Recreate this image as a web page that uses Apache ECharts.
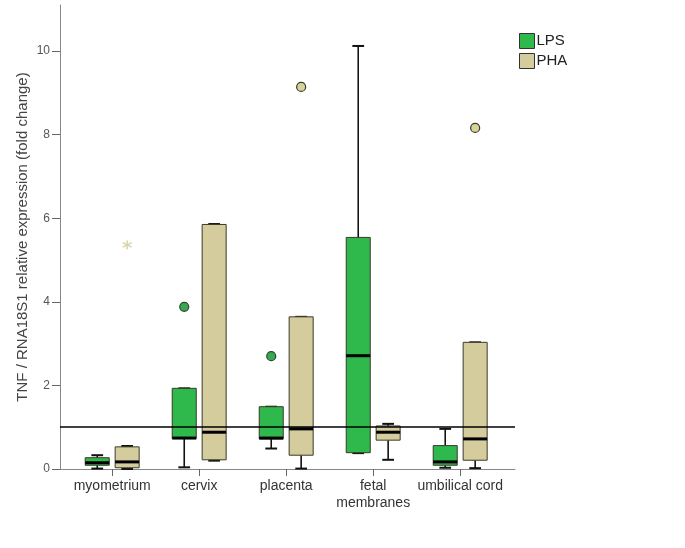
<!DOCTYPE html>
<html><head><meta charset="utf-8">
<script src="https://cdn.jsdelivr.net/npm/echarts@6/dist/echarts.min.js"></script>
<style>html,body{margin:0;padding:0;background:#fff}#c{width:685px;height:548px}</style>
</head><body><div id="c"></div>
<script>
const categories = ['myometrium', 'cervix', 'placenta', 'fetal\nmembranes', 'umbilical cord'];
const yTicks = [0, 2, 4, 6, 8, 10];
// LPS five-number summaries
const lpsMin = [0.01, 0.04, 0.49, 0.38, 0.03];
const lpsQ1  = [0.09, 0.73, 0.72, 0.39, 0.09];
const lpsMed = [0.15, 0.74, 0.74, 2.71, 0.17];
const lpsQ3  = [0.27, 1.93, 1.49, 5.54, 0.56];
const lpsMax = [0.33, 1.93, 1.49, 10.12, 0.96];
// PHA five-number summaries
const phaMin = [0.00, 0.20, 0.01, 0.22, 0.02];
const phaQ1  = [0.03, 0.22, 0.33, 0.69, 0.21];
const phaMed = [0.17, 0.88, 0.96, 0.88, 0.72];
const phaQ3  = [0.53, 5.85, 3.64, 1.03, 3.03];
const phaMax = [0.55, 5.86, 3.64, 1.08, 3.03];
// outliers [category index, value]
const lpsOutliers = [[1, 3.88], [2, 2.70]];
const phaOutliers = [[2, 9.14], [4, 8.16]];
const phaExtremes = [[0, 5.36]];
const refLine = 1;

const BOX_W = 0.276, CAP_W = 0.135, OFF = 0.172;
const LPS_COLOR = '#2fb84b', PHA_COLOR = '#d4cc9c';

function zip(mn, q1, md, q3, mx) {
  return mn.map((v, i) => [i, v, q1[i], md[i], q3[i], mx[i]]);
}
function makeRender(offset, fill) {
  return function (params, api) {
    const idx = api.value(0);
    const xc = api.coord([idx + offset, 0])[0];
    const bw = api.size([BOX_W, 0])[0];
    const cw = api.size([CAP_W, 0])[0];
    const y = k => api.coord([0, api.value(k)])[1];
    const yMin = y(1), yQ1 = y(2), yMed = y(3), yQ3 = y(4), yMax = y(5);
    const ls = { stroke: '#111', lineWidth: 1.6 };
    return {
      type: 'group',
      children: [
        { type: 'line', shape: { x1: xc, y1: yMax, x2: xc, y2: yQ3 }, style: ls },
        { type: 'line', shape: { x1: xc, y1: yQ1, x2: xc, y2: yMin }, style: ls },
        { type: 'line', shape: { x1: xc - cw / 2, y1: yMax, x2: xc + cw / 2, y2: yMax }, style: { stroke: '#111', lineWidth: 2 } },
        { type: 'line', shape: { x1: xc - cw / 2, y1: yMin, x2: xc + cw / 2, y2: yMin }, style: { stroke: '#111', lineWidth: 2 } },
        { type: 'rect', shape: { x: xc - bw / 2, y: yQ3, width: bw, height: Math.max(yQ1 - yQ3, 1) }, style: { fill: fill, stroke: '#3a3a2a', lineWidth: 1 } },
        { type: 'line', shape: { x1: xc - bw / 2, y1: yMed, x2: xc + bw / 2, y2: yMed }, style: { stroke: '#000', lineWidth: 3 } }
      ]
    };
  };
}

const chart = echarts.init(document.getElementById('c'), null, { renderer: 'canvas' });
const FONT = 'Liberation Sans, Arial, sans-serif';
chart.setOption({
  animation: false,
  textStyle: { fontFamily: FONT },
  grid: { left: 60, right: 170, top: 5, bottom: 79, containLabel: false },
  legend: {
    orient: 'vertical', left: 519, top: 33, padding: 0, itemWidth: 15, itemHeight: 15, itemGap: 4,
    icon: 'rect',
    textStyle: { fontSize: 15, color: '#222', fontFamily: FONT, padding: [0, 0, 0, -3] },
    data: [
      { name: 'LPS', itemStyle: { color: LPS_COLOR, borderColor: '#333', borderWidth: 1 } },
      { name: 'PHA', itemStyle: { color: PHA_COLOR, borderColor: '#333', borderWidth: 1 } }
    ]
  },
  xAxis: {
    type: 'value', min: -0.6, max: 4.63,
    splitLine: { show: false },
    axisLine: { show: true, onZero: false, lineStyle: { color: '#888', width: 1 } },
    axisTick: { show: true, customValues: categories.map((c, i) => i), length: 7, lineStyle: { color: '#666' } },
    axisLabel: {
      customValues: categories.map((c, i) => i), formatter: v => categories[Math.round(v)],
      fontSize: 14, color: '#333', margin: 9, lineHeight: 17, fontFamily: FONT
    }
  },
  yAxis: {
    type: 'value', min: 0, max: 11.1,
    splitLine: { show: false },
    axisLine: { show: true, onZero: false, lineStyle: { color: '#888', width: 1 } },
    axisTick: { show: true, customValues: yTicks, length: 8, lineStyle: { color: '#666' } },
    axisLabel: { customValues: yTicks, fontSize: 12, color: '#555', margin: 10, fontFamily: FONT },
    name: 'TNF / RNA18S1 relative expression (fold change)',
    nameLocation: 'middle', nameGap: 30, nameRotate: 90, nameMoveOverlap: false,
    nameTextStyle: { fontSize: 15, color: '#444', fontFamily: FONT }
  },
  series: [
    {
      name: 'LPS', type: 'custom', renderItem: makeRender(-OFF, LPS_COLOR),
      itemStyle: { color: LPS_COLOR }, encode: { x: 0, y: [1, 2, 3, 4, 5] },
      data: zip(lpsMin, lpsQ1, lpsMed, lpsQ3, lpsMax), z: 3,
      markLine: {
        silent: true, symbol: 'none', label: { show: false },
        lineStyle: { color: '#000', width: 1.5, type: 'solid' },
        data: [{ yAxis: refLine }]
      }
    },
    {
      name: 'PHA', type: 'custom', renderItem: makeRender(OFF, PHA_COLOR),
      itemStyle: { color: PHA_COLOR }, encode: { x: 0, y: [1, 2, 3, 4, 5] },
      data: zip(phaMin, phaQ1, phaMed, phaQ3, phaMax), z: 3
    },
    {
      name: 'LPS outliers', type: 'scatter', symbol: 'circle', symbolSize: 9, z: 4,
      itemStyle: { color: '#3aa853', borderColor: '#2a4a30', borderWidth: 1.2, opacity: 1 },
      data: lpsOutliers.map(d => [d[0] - OFF, d[1]])
    },
    {
      name: 'PHA outliers', type: 'scatter', symbol: 'circle', symbolSize: 9, z: 4,
      itemStyle: { color: '#d6d29c', borderColor: '#3a3a2a', borderWidth: 1.2, opacity: 1 },
      data: phaOutliers.map(d => [d[0] + OFF, d[1]])
    },
    {
      name: 'PHA extremes', type: 'scatter', z: 4,
      symbol: 'path://M5,0 L5,10 M0.5,2.5 L9.5,7.5 M0.5,7.5 L9.5,2.5',
      symbolSize: 9,
      itemStyle: { color: 'none', borderColor: '#cfc993', borderWidth: 1.5 },
      data: phaExtremes.map(d => [d[0] + OFF, d[1]])
    }
  ]
});
</script>
</body></html>
